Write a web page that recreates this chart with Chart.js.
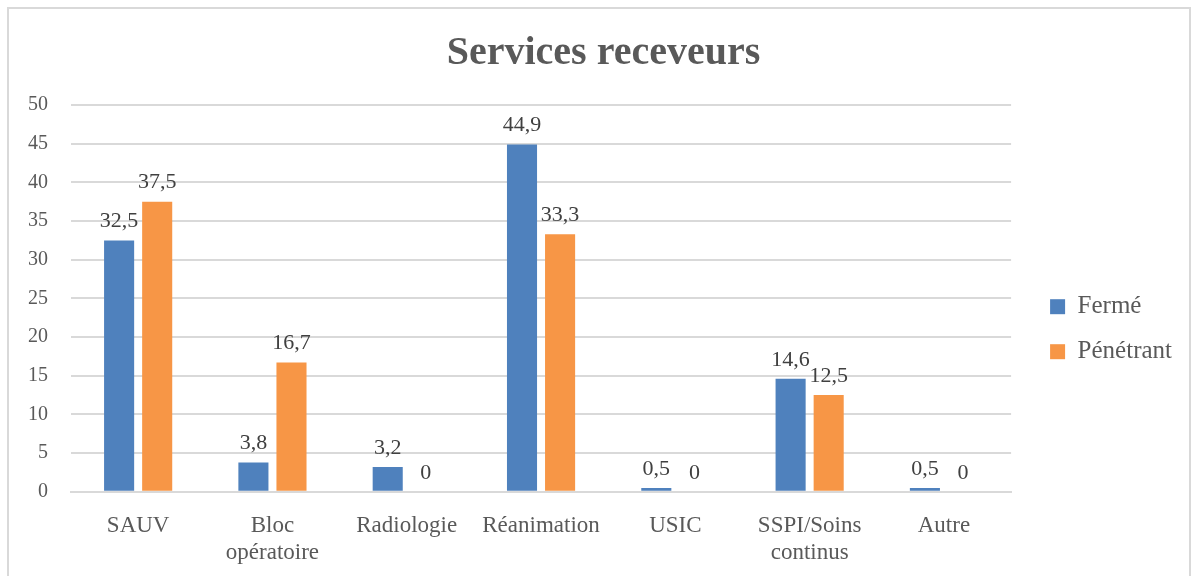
<!DOCTYPE html>
<html>
<head>
<meta charset="utf-8">
<script src="https://cdn.jsdelivr.net/npm/chart.js@4/dist/chart.umd.min.js"></script>
<style>
  html, body { margin: 0; padding: 0; background: #fff; }
  #wrap { position: absolute; left: 7px; top: 7px; width: 1184px; height: 580px; border: 2px solid #d9d9d9; box-sizing: border-box; overflow: hidden; }
  #chart { position: absolute; left: 0; top: 0; }
</style>
</head>
<body>
<div id="wrap"><canvas id="chart" width="1180" height="570"></canvas></div>
<script>
var categories = ["SAUV", ["Bloc", "opératoire"], "Radiologie", "Réanimation", "USIC", ["SSPI/Soins", "continus"], "Autre"];
var ferme = [32.5, 3.8, 3.2, 44.9, 0.5, 14.6, 0.5];
var penetrant = [37.5, 16.7, 0, 33.3, 0, 12.5, 0];
var yTicks = [0, 5, 10, 15, 20, 25, 30, 35, 40, 45, 50];

var serif = "'Liberation Serif', 'DejaVu Serif', serif";

// simple value labels above each bar
var valueLabels = {
    id: 'valueLabels',
    afterDatasetsDraw: function (chart) {
        var ctx = chart.ctx;
        ctx.save();
        ctx.font = "22px " + serif;
        ctx.fillStyle = "#404040";
        ctx.textAlign = "center";
        ctx.textBaseline = "bottom";
        chart.data.datasets.forEach(function (ds, i) {
            chart.getDatasetMeta(i).data.forEach(function (bar, j) {
                var txt = String(ds.data[j]).replace('.', ',');
                ctx.fillText(txt, bar.x, bar.y - 8);
            });
        });
        ctx.restore();
    }
};

new Chart(document.getElementById("chart").getContext('2d'), {
    type: 'bar',
    data: {
        labels: categories,
        datasets: [{
            label: "Fermé",
            data: ferme,
            backgroundColor: "#4f81bd",
            categoryPercentage: 0.567,
            barPercentage: 0.79
        }, {
            label: "Pénétrant",
            data: penetrant,
            backgroundColor: "#f79646",
            categoryPercentage: 0.567,
            barPercentage: 0.79
        }]
    },
    options: {
        responsive: false,
        animation: false,
        layout: { padding: { left: 16, right: 7, top: 10, bottom: 0 } },
        plugins: {
            title: {
                display: true,
                text: "Services receveurs",
                color: "#595959",
                font: { family: serif, size: 40, weight: 'bold' },
                padding: { top: 11, bottom: 27 }
            },
            legend: {
                position: 'right',
                title: { display: true, text: ' ', padding: 23 },
                labels: {
                    color: "#595959",
                    font: { family: serif, size: 25 },
                    boxWidth: 15,
                    boxHeight: 15,
                    padding: 20
                }
            },
            tooltip: { enabled: false }
        },
        scales: {
            x: {
                grid: { display: false },
                border: { color: "#d9d9d9", width: 2 },
                ticks: {
                    color: "#595959",
                    font: { family: serif, size: 23 },
                    maxRotation: 0,
                    autoSkip: false,
                    padding: 12
                }
            },
            y: {
                min: 0,
                max: 50,
                afterBuildTicks: function (axis) {
                    axis.ticks = yTicks.map(function (v) { return { value: v }; });
                },
                afterFit: function (axis) { axis.width = 46; },
                grid: { color: "#d9d9d9", lineWidth: 2, drawTicks: false },
                border: { display: false },
                ticks: {
                    color: "#595959",
                    font: { family: serif, size: 20 },
                    padding: 23
                }
            },
            // empty axis, only keeps a gap between plot and legend
            gap: {
                type: 'linear',
                position: 'right',
                display: true,
                afterFit: function (axis) { axis.width = 19; },
                grid: { display: false },
                border: { display: false },
                ticks: { display: false }
            }
        }
    },
    plugins: [valueLabels]
});
</script>
</body>
</html>
